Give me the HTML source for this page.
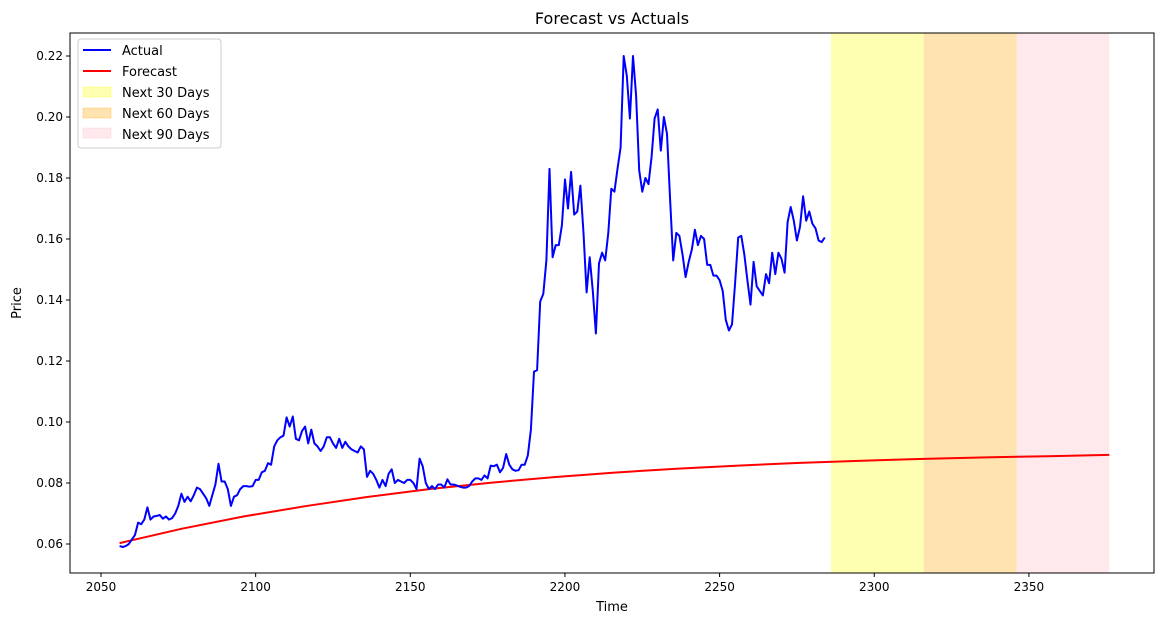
<!DOCTYPE html>
<html><head><meta charset="utf-8"><style>
body{margin:0;background:#fff;}
svg{display:block;font-family:"DejaVu Sans","Liberation Sans",sans-serif;}
</style></head><body>
<svg id="chart" width="1165" height="624" xmlns="http://www.w3.org/2000/svg">
<text x="612" y="24" text-anchor="middle" font-size="16">Forecast vs Actuals</text>
<g id="bands"></g>
<g id="grid"></g>
<g id="series"></g>
<rect x="70" y="33" width="1084" height="540" fill="none" stroke="#000" stroke-width="1"/>
<text x="612" y="611" text-anchor="middle" font-size="13">Time</text>
<text x="21" y="303" text-anchor="middle" font-size="13" transform="rotate(-90 21 303)">Price</text>
<g>
<rect x="78" y="39" width="143" height="109" rx="3" fill="#fff" fill-opacity="0.8" stroke="#ccc"/>
<line x1="83" y1="50" x2="111" y2="50" stroke="#0000ff" stroke-width="2"/>
<text x="122" y="55" font-size="13">Actual</text>
<line x1="83" y1="71" x2="111" y2="71" stroke="#ff0000" stroke-width="2"/>
<text x="122" y="76" font-size="13">Forecast</text>
<rect x="83" y="87" width="28" height="10" fill="#ffff00" fill-opacity="0.3" stroke="#ffff00" stroke-opacity="0.3"/>
<text x="122" y="97" font-size="13">Next 30 Days</text>
<rect x="83" y="108" width="28" height="10" fill="#ffa500" fill-opacity="0.3" stroke="#ffa500" stroke-opacity="0.3"/>
<text x="122" y="118" font-size="13">Next 60 Days</text>
<rect x="83" y="128" width="28" height="10" fill="#ffc0cb" fill-opacity="0.35" stroke="#ffc0cb" stroke-opacity="0.35"/>
<text x="122" y="139" font-size="13">Next 90 Days</text>
</g>
</svg>
<script>
const actualStart = 2056;
const actualValues = [0.0593,0.059,0.0593,0.060,0.0615,0.063,0.067,0.0665,0.068,0.072,0.068,0.069,0.0692,0.0695,0.0683,0.069,0.068,0.0685,0.070,0.0725,0.0765,0.0738,0.0755,0.074,0.076,0.0785,0.078,0.0765,0.075,0.0725,0.076,0.0795,0.0863,0.0805,0.0805,0.078,0.0725,0.0755,0.076,0.078,0.079,0.079,0.0788,0.079,0.081,0.081,0.0835,0.084,0.0865,0.086,0.092,0.094,0.095,0.0955,0.1015,0.0985,0.1018,0.0945,0.094,0.097,0.0985,0.093,0.0975,0.093,0.092,0.0905,0.092,0.095,0.095,0.093,0.0915,0.0945,0.0915,0.0935,0.092,0.091,0.0905,0.090,0.092,0.091,0.082,0.084,0.083,0.081,0.0785,0.081,0.079,0.083,0.0845,0.080,0.081,0.0805,0.080,0.081,0.081,0.080,0.078,0.088,0.0855,0.080,0.078,0.079,0.078,0.0795,0.0795,0.0785,0.0812,0.0795,0.0795,0.0792,0.0788,0.0785,0.0785,0.079,0.0805,0.0815,0.0815,0.081,0.0825,0.0815,0.0857,0.0855,0.086,0.0835,0.085,0.0895,0.086,0.0845,0.084,0.0842,0.086,0.086,0.089,0.0975,0.1165,0.117,0.1395,0.142,0.153,0.183,0.154,0.158,0.158,0.1645,0.1795,0.170,0.182,0.168,0.169,0.1775,0.162,0.1425,0.154,0.143,0.129,0.152,0.1555,0.153,0.162,0.1765,0.1755,0.183,0.190,0.220,0.2135,0.1995,0.220,0.207,0.1825,0.1755,0.180,0.178,0.187,0.1995,0.2025,0.189,0.200,0.1945,0.173,0.153,0.162,0.161,0.155,0.1475,0.1525,0.1565,0.163,0.158,0.161,0.160,0.1515,0.1515,0.148,0.148,0.1465,0.143,0.1335,0.130,0.132,0.1455,0.1605,0.161,0.155,0.1465,0.1385,0.1525,0.1445,0.143,0.1415,0.1485,0.1455,0.1555,0.1485,0.1555,0.1535,0.149,0.1655,0.1705,0.166,0.1595,0.164,0.174,0.166,0.169,0.165,0.1635,0.1595,0.159,0.1605];
const forecastDays = [2056,2076,2096,2116,2136,2156,2176,2196,2216,2236,2256,2276,2296,2316,2336,2356,2376];
const forecastValues = [0.0603,0.0650,0.0690,0.0724,0.0754,0.0780,0.0801,0.0819,0.0834,0.0847,0.0857,0.0866,0.0873,0.0879,0.0884,0.0888,0.0892];
const bandStarts = [2286,2316,2346];
const bandEnds = [2316,2346,2376];
const bandNames = ['band-next-30','band-next-60','band-next-90'];
const xTicks = [2050,2100,2150,2200,2250,2300,2350];
const yTicks = [0.06,0.08,0.10,0.12,0.14,0.16,0.18,0.20,0.22];

const NS='http://www.w3.org/2000/svg';
function X(d){return 101+(d-2050)*3.093;}
function Y(v){return 544-(v-0.06)*3050;}
function mk(tag,attrs,parent){const e=document.createElementNS(NS,tag);for(const k in attrs)e.setAttribute(k,attrs[k]);parent.appendChild(e);return e;}

const bands=document.getElementById('bands');
const bandColors=[['#ffff00',0.3],['#ffa500',0.3],['#ffc0cb',0.35]];
bandStarts.forEach((s,i)=>{
  const r=mk('rect',{x:X(s),y:33,width:X(bandEnds[i])-X(s),height:540,fill:bandColors[i][0],'fill-opacity':bandColors[i][1]},bands);
  
  
});

const g=document.getElementById('grid');
xTicks.forEach(t=>{
  const l=mk('line',{x1:X(t),x2:X(t),y1:573,y2:577,stroke:'#000'},g);
  
  
  const tx=mk('text',{x:X(t),y:591,'text-anchor':'middle','font-size':12},g);
  tx.textContent=t;
  
  
});
yTicks.forEach(t=>{
  const l=mk('line',{x1:66,x2:70,y1:Y(t),y2:Y(t),stroke:'#000'},g);
  
  
  const tx=mk('text',{x:63,y:Y(t)+4,'text-anchor':'end','font-size':12},g);
  tx.textContent=t.toFixed(2);
  
  
});

const s=document.getElementById('series');
const fp=forecastDays.map((d,i)=>X(d).toFixed(1)+','+Y(forecastValues[i]).toFixed(1)).join(' ');
const fl=mk('polyline',{points:fp,fill:'none',stroke:'#ff0000','stroke-width':2},s);


const ap=actualValues.map((v,i)=>X(actualStart+i).toFixed(1)+','+Y(v).toFixed(1)).join(' ');
const al=mk('polyline',{points:ap,fill:'none',stroke:'#0000ff','stroke-width':2,'stroke-linejoin':'round'},s);


</script>
</body></html>
